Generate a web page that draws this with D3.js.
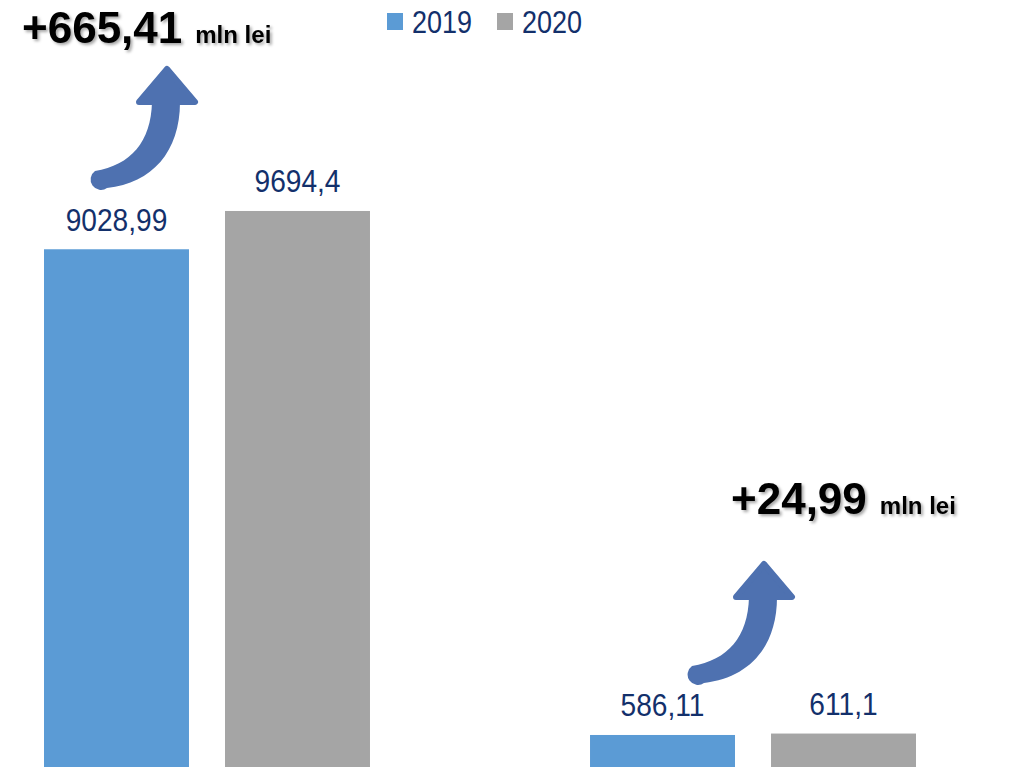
<!DOCTYPE html>
<html>
<head>
<meta charset="utf-8">
<script src="https://cdn.jsdelivr.net/npm/d3@7/dist/d3.min.js"></script>
<style>
  html, body { margin: 0; padding: 0; background: #fff; }
  svg { display: block; }
</style>
</head>
<body>
<svg id="chart" width="1018" height="767"></svg>
<script>
// ---- data ----
const categories = ["Grupa 1", "Grupa 2"];
const seriesNames = ["2019", "2020"];
const values2019 = [9028.99, 586.11];
const values2020 = [9694.4, 611.1];
const seriesColors = ["#5b9bd5", "#a5a5a5"];
const deltaLabels = ["+665,41", "+24,99"];
const deltaUnit = "mln lei";

const W = 1018, H = 767;
const svg = d3.select("#chart");

const defs = svg.append("defs");
const f = defs.append("filter").attr("id", "shadow").attr("x", "-10%").attr("y", "-20%").attr("width", "130%").attr("height", "150%");
f.append("feDropShadow").attr("dx", 2).attr("dy", 2).attr("stdDeviation", 1.5)
  .attr("flood-color", "#000").attr("flood-opacity", 0.35);

const x0 = d3.scaleBand().domain(categories).range([44, 916]).paddingInner(0.403).paddingOuter(0);
const x1 = d3.scaleBand().domain(seriesNames).range([0, x0.bandwidth()]).paddingInner(0.199).paddingOuter(0);
const y = d3.scaleLinear().domain([0, 10000]).range([768.7, 768.7 - 10000 * 0.05753]);

const locale = d3.formatLocale({ decimal: ",", thousands: "", grouping: [3], currency: ["", ""] });
const fmt = locale.format(".2~f");

const rows = categories.map((c, i) => ({ cat: c, vals: [values2019[i], values2020[i]] }));

const groups = svg.append("g").selectAll("g").data(rows).join("g")
  .attr("transform", d => `translate(${x0(d.cat)},0)`);

const bars = groups.selectAll("g.bar").data(d => d.vals.map((v, j) => ({ s: seriesNames[j], v, j })))
  .join("g").attr("class", "bar");

bars.append("rect")
  .attr("x", d => x1(d.s))
  .attr("width", x1.bandwidth())
  .attr("y", d => y(d.v))
  .attr("height", d => y(0) - y(d.v) + 10)
  .attr("fill", d => seriesColors[d.j]);

bars.append("text")
  .attr("transform", d => `translate(${x1(d.s) + x1.bandwidth() / 2},${y(d.v) - 18.5}) scale(0.97,1.1)`)
  .attr("text-anchor", "middle")
  .attr("font-family", "Liberation Sans, Arial, sans-serif")
  .attr("font-size", 29)
  .attr("fill", "#13306b")
  .text(d => fmt(d.v));

// ---- legend ----
const legend = svg.append("g");
const legX = [387, 497];
seriesNames.forEach((s, j) => {
  legend.append("rect").attr("x", legX[j]).attr("y", 13).attr("width", 16).attr("height", 17).attr("fill", seriesColors[j]);
  legend.append("text").attr("transform", `translate(${legX[j] + 25},33) scale(1,1.15)`)
    .attr("font-family", "Liberation Sans, Arial, sans-serif").attr("font-size", 27)
    .attr("fill", "#13306b").text(s);
});

// ---- annotations (curved arrows + delta text) ----
const arrowShaft = "M 13,35 C 13,85 -15,116 -60,121 A 9.5 9.5 0 0 1 -72,104 C -36,98 -16,75 -15,35 Z";
const arrowHead = "M 0,2 L 28,35 L -28,35 Z";
const annos = [
  { tip: [167, 67], text: [22, 43] },
  { tip: [764, 562], text: [731, 514] }
];
annos.forEach((a, i) => {
  const g = svg.append("g").attr("transform", `translate(${a.tip[0]},${a.tip[1]})`);
  g.append("path").attr("d", arrowShaft).attr("fill", "#4e71b0");
  g.append("path").attr("d", arrowHead).attr("fill", "#4e71b0").attr("stroke", "#4e71b0")
    .attr("stroke-width", 6).attr("stroke-linejoin", "round");
  const t = svg.append("text").attr("x", a.text[0]).attr("y", a.text[1])
    .attr("font-family", "Liberation Sans, Arial, sans-serif").attr("font-weight", "bold")
    .attr("fill", "#000").attr("filter", "url(#shadow)");
  t.append("tspan").attr("font-size", 44).text(deltaLabels[i]);
  t.append("tspan").attr("font-size", 24).attr("dx", 13).text(deltaUnit);
});
</script>
</body>
</html>
